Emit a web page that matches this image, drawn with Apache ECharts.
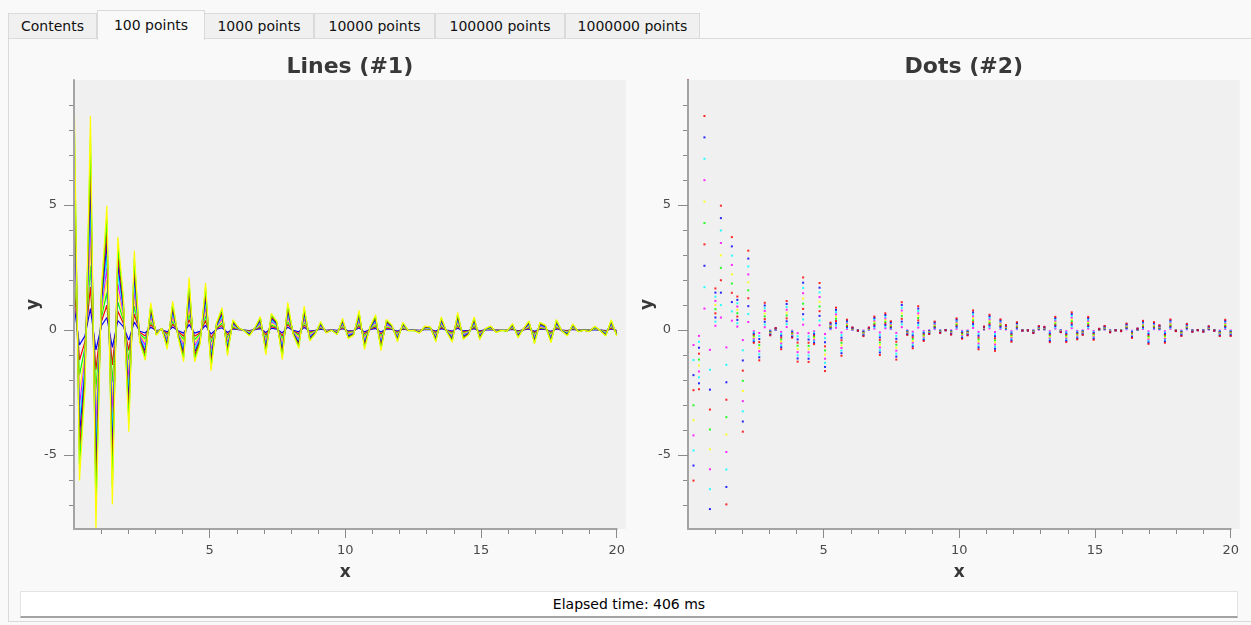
<!DOCTYPE html>
<html>
<head>
<meta charset="utf-8">
<title>Curve benchmark</title>
<script src="https://cdn.jsdelivr.net/npm/echarts@6/dist/echarts.min.js"></script>
<style>
  html, body { margin: 0; padding: 0; background: #f9f9f9; }
  body { width: 1251px; height: 625px; overflow: hidden; position: relative;
         font-family: "DejaVu Sans", sans-serif; color: #000; }
  .tab { position: absolute; box-sizing: border-box; font-size: 14px; text-align: center;
         background: #f0f0f0; border: 1px solid #dadada; border-bottom: none; color: #111; }
  .tab.sel { background: #f9f9f9; z-index: 2; }
  #panel { position: absolute; left: 8px; top: 38px; width: 1260px; height: 584px;
           box-sizing: border-box; background: #f9f9f9; border: 1px solid #dadada; }
  #status { position: absolute; left: 20px; top: 591px; width: 1218px; height: 27px;
            box-sizing: border-box; background: #fff; border: 1px solid #e3e3e3;
            border-bottom: 2px solid #a3a3a3; font-size: 14px; text-align: center; line-height: 24px; }
  #chart { position: absolute; left: 0; top: 0; width: 1251px; height: 625px; }
</style>
</head>
<body>
<div id="panel"></div>
<div id="tabbar"></div>
<div id="status">Elapsed time: 406 ms</div>
<div id="chart"></div>
<script>
// Tab captions of the benchmark window
const tabLabels = ['Contents', '100 points', '1000 points', '10000 points', '100000 points', '1000000 points'];
const selectedTab = 1;

// Sample abscissas (100 points on [0.001, 20])
const xValues = [
  0.001, 0.203, 0.405, 0.607, 0.809, 1.011, 1.213, 1.415, 1.617, 1.819,
  2.021, 2.223, 2.425, 2.627, 2.829, 3.031, 3.233, 3.435, 3.637, 3.839,
  4.041, 4.243, 4.445, 4.647, 4.849, 5.051, 5.253, 5.455, 5.657, 5.859,
  6.061, 6.263, 6.465, 6.667, 6.869, 7.071, 7.273, 7.475, 7.677, 7.879,
  8.081, 8.283, 8.485, 8.687, 8.889, 9.091, 9.293, 9.495, 9.697, 9.899,
  10.102, 10.304, 10.506, 10.708, 10.910, 11.112, 11.314, 11.516, 11.718, 11.920,
  12.122, 12.324, 12.526, 12.728, 12.930, 13.132, 13.334, 13.536, 13.738, 13.940,
  14.142, 14.344, 14.546, 14.748, 14.950, 15.152, 15.354, 15.556, 15.758, 15.960,
  16.162, 16.364, 16.566, 16.768, 16.970, 17.172, 17.374, 17.576, 17.778, 17.980,
  18.182, 18.384, 18.586, 18.788, 18.990, 19.192, 19.394, 19.596, 19.798, 20.000
];

// Unit-amplitude curve profile
const baseY = [
  0.9998, -0.6027, -0.2373, 0.8558, -0.7963, 0.1660, 0.4970, -0.6978, 0.3714, 0.1336,
  -0.4070, 0.3171, -0.0517, -0.1216, 0.1086, -0.0217, 0.0073, -0.0772, 0.1155, -0.0308,
  -0.1268, 0.2100, -0.1280, -0.0568, 0.1878, -0.1644, 0.0289, 0.0891, -0.1034, 0.0410,
  0.0099, -0.0029, -0.0246, 0.0096, 0.0536, -0.1001, 0.0665, 0.0346, -0.1186, 0.1108,
  -0.0197, -0.0736, 0.0950, -0.0443, -0.0164, 0.0334, -0.0123, -0.0012, -0.0188, 0.0461,
  -0.0351, -0.0218, 0.0781, -0.0776, 0.0136, 0.0609, -0.0837, 0.0423, 0.0191, -0.0472,
  0.0306, -0.0028, -0.0022, -0.0126, 0.0153, 0.0124, -0.0487, 0.0524, -0.0091, -0.0486,
  0.0704, -0.0375, -0.0197, 0.0521, -0.0394, 0.0045, 0.0157, -0.0097, -0.0017, -0.0050,
  0.0255, -0.0318, 0.0055, 0.0365, -0.0558, 0.0311, 0.0186, -0.0513, 0.0419, -0.0048,
  -0.0240, 0.0243, -0.0074, -0.0011, -0.0070, 0.0148, -0.0029, -0.0246, 0.0407, -0.0240
];

// Each plot carries ten curves: the profile scaled by 1..10
const curveScales = [1, 2, 3, 4, 5, 6, 7, 8, 9, 10];
const lineColors = ['#0000ff', '#ff0000', '#00ff00', '#ffff00', '#ff00ff', '#00ffff', '#0000ff', '#ff0000', '#00ff00', '#ffff00'];
const dotColors  = ['#ff00ff', '#00ffff', '#0000ff', '#ff0000', '#00ff00', '#ffff00', '#ff00ff', '#00ffff', '#0000ff', '#ff0000'];

const plotTitles = ['Lines (#1)', 'Dots (#2)'];
const xMajorTicks = [5, 10, 15, 20];
const xMinorTicks = [1, 2, 3, 4, 6, 7, 8, 9, 11, 12, 13, 14, 16, 17, 18, 19];
const yMajorTicks = [-5, 0, 5];
const yMinorTicks = [-7, -6, -4, -3, -2, -1, 1, 2, 3, 4, 6, 7, 8, 9];

// ---- tab bar ----
const tabBoxes = [[8, 97], [97, 204], [204, 314], [314, 435], [435, 565], [565, 700]];
const bar = document.getElementById('tabbar');
tabLabels.forEach((t, i) => {
  const d = document.createElement('div');
  d.className = 'tab' + (i === selectedTab ? ' sel' : '');
  const top = i === selectedTab ? 10 : 13;
  const h = i === selectedTab ? 30 : 25;
  d.style.left = tabBoxes[i][0] + 'px';
  d.style.width = (tabBoxes[i][1] - tabBoxes[i][0] + (i === selectedTab ? 1 : 0)) + 'px';
  d.style.top = top + 'px';
  d.style.height = h + 'px';
  d.style.lineHeight = (i === selectedTab ? 28 : 24) + 'px';
  d.textContent = t;
  bar.appendChild(d);
});

// ---- plots ----
const allY = [];
curveScales.forEach(s => baseY.forEach(v => allY.push(v * s)));
const yMin = Math.min(...allY), yMax = Math.max(...allY);
const xMin = Math.min(...xValues), xMax = Math.max(...xValues);

const FONT = '"DejaVu Sans", sans-serif';
const plotLeft = [74, 688];
const plotTop = 80, plotH = 449, plotW = 542.7, canvasExtra = 9;

function curve(scale) {
  return xValues.map((x, i) => [x, +(baseY[i] * scale).toFixed(4)]);
}

const grids = [], xAxes = [], yAxes = [], series = [], graphics = [];
plotLeft.forEach((left, p) => {
  grids.push({ left: left, top: plotTop, width: plotW, height: plotH, containLabel: false });
  const axisCommon = { gridIndex: p, type: 'value', splitLine: { show: false } };
  xAxes.push(Object.assign({}, axisCommon, {
    position: 'bottom', min: xMin, max: xMax, z: 5,
    axisLine: { show: true, onZero: false, lineStyle: { color: '#a4a4a4', width: 2 } },
    axisTick: { show: true, length: 9, customValues: xMajorTicks, lineStyle: { color: '#8a8a8a', width: 1 } },
    axisLabel: { show: true, customValues: xMajorTicks, margin: 15, color: '#4a4a4a', fontSize: 13, fontFamily: FONT }
  }));
  xAxes.push(Object.assign({}, axisCommon, {
    position: 'bottom', min: xMin, max: xMax,
    axisLine: { show: false, onZero: false },
    axisTick: { show: true, length: 5, customValues: xMinorTicks, lineStyle: { color: '#8a8a8a', width: 1 } },
    axisLabel: { show: false }
  }));
  // the left backbone sits above the marks, like the plot canvas frame
  yAxes.push(Object.assign({}, axisCommon, {
    position: 'left', min: yMin, max: yMax, z: 5,
    axisLine: { show: true, onZero: false, lineStyle: { color: '#a4a4a4', width: 2 } },
    axisTick: { show: true, length: 10, customValues: yMajorTicks, lineStyle: { color: '#8a8a8a', width: 1 } },
    axisLabel: { show: true, customValues: yMajorTicks, margin: 17, color: '#4a4a4a', fontSize: 13, fontFamily: FONT }
  }));
  yAxes.push(Object.assign({}, axisCommon, {
    position: 'left', min: yMin, max: yMax,
    axisLine: { show: false, onZero: false },
    axisTick: { show: true, length: 5, customValues: yMinorTicks, lineStyle: { color: '#8a8a8a', width: 1 } },
    axisLabel: { show: false }
  }));

  // canvas background
  graphics.push({ type: 'rect', z: -10, silent: true,
    shape: { x: left, y: plotTop, width: plotW + canvasExtra, height: plotH },
    style: { fill: '#f0f0f0' } });
  // plot title
  const cx = left + (plotW + canvasExtra) / 2;
  graphics.push({ type: 'text', silent: true, x: cx, y: 67,
    style: { text: plotTitles[p], font: 'bold 22px ' + FONT, fill: '#383838',
             align: 'center', verticalAlign: 'middle', textAlign: 'center', textVerticalAlign: 'middle' } });
  // axis titles
  graphics.push({ type: 'text', silent: true, x: left + plotW / 2, y: 573,
    style: { text: 'x', font: 'bold 17px ' + FONT, fill: '#383838',
             align: 'center', verticalAlign: 'middle', textAlign: 'center', textVerticalAlign: 'middle' } });
  graphics.push({ type: 'text', silent: true, x: left - 40, y: plotTop + plotH / 2, rotation: Math.PI / 2,
    style: { text: 'y', font: 'bold 17px ' + FONT, fill: '#383838',
             align: 'center', verticalAlign: 'middle', textAlign: 'center', textVerticalAlign: 'middle' } });

  curveScales.forEach((s, k) => {
    if (p === 0) {
      series.push({ type: 'line', xAxisIndex: 0, yAxisIndex: 0, data: curve(s),
        showSymbol: false, symbol: 'none', smooth: false,
        lineStyle: { color: lineColors[k], width: 1.2 }, itemStyle: { color: lineColors[k] } });
    } else {
      series.push({ type: 'scatter', xAxisIndex: 2, yAxisIndex: 2, data: curve(s),
        symbol: 'rect', symbolSize: 2,
        itemStyle: { color: dotColors[k], opacity: 0.85 } });
    }
  });
});

const chart = echarts.init(document.getElementById('chart'), null, { renderer: 'canvas' });
chart.setOption({
  animation: false,
  backgroundColor: 'transparent',
  grid: grids,
  xAxis: xAxes,
  yAxis: yAxes,
  series: series,
  graphic: { elements: graphics }
});
</script>
</body>
</html>
